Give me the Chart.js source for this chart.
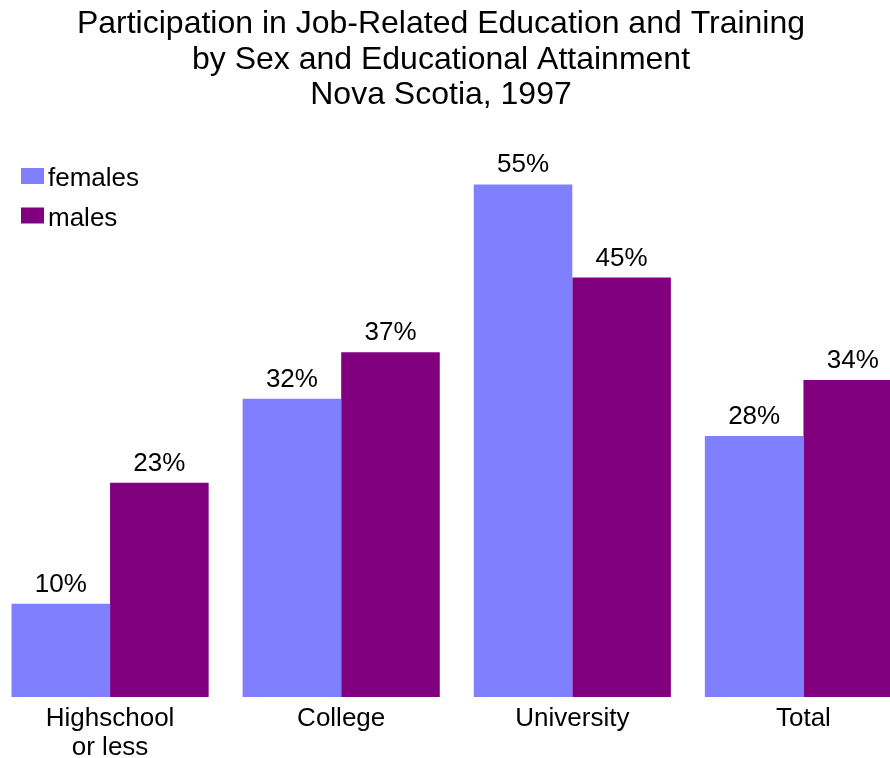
<!DOCTYPE html>
<html>
<head>
<meta charset="utf-8">
<title>Participation in Job-Related Education and Training</title>
<script src="https://cdn.jsdelivr.net/npm/chart.js@4/dist/chart.umd.min.js"></script>
<style>
  html, body { margin: 0; padding: 0; background: #ffffff; }
  body { width: 890px; height: 758px; overflow: hidden; position: relative; }
  #wrap { position: absolute; left: -37px; top: 0; width: 956px; height: 758px; }
</style>
</head>
<body>
<div id="wrap"><canvas id="chart" width="956" height="758"></canvas></div>
<script>
// Education level groups shown along the bottom
const categories = [['Highschool', 'or less'], 'College', 'University', 'Total'];
// Participation rate (%) for each group
const females = [10, 32, 55, 28];
const males = [23, 37, 45, 34];
const seriesNames = ['females', 'males'];
const titleLines = [
  'Participation in Job-Related Education and Training',
  'by Sex and Educational Attainment',
  'Nova Scotia, 1997'
];

const FONT = '"Liberation Sans", Arial, Helvetica, sans-serif';
const FEMALE_COLOR = '#8080ff';
const MALE_COLOR = '#800080';

// Percentage labels above every bar
const valueLabels = {
  id: 'valueLabels',
  afterDatasetsDraw(chart) {
    const ctx = chart.ctx;
    ctx.save();
    ctx.font = '26px ' + FONT;
    ctx.fillStyle = '#000000';
    ctx.textAlign = 'center';
    ctx.textBaseline = 'alphabetic';
    chart.data.datasets.forEach((ds, i) => {
      chart.getDatasetMeta(i).data.forEach((bar, j) => {
        ctx.fillText(ds.data[j] + '%', bar.x, bar.y - 12);
      });
    });
    ctx.restore();
  }
};

// Stacked legend in the upper-left corner of the plot
const cornerLegend = {
  id: 'cornerLegend',
  afterDraw(chart) {
    const ctx = chart.ctx;
    const left = chart.chartArea.left + 26.5;
    ctx.save();
    ctx.font = '26px ' + FONT;
    ctx.textBaseline = 'alphabetic';
    ctx.textAlign = 'left';
    chart.data.datasets.forEach((ds, i) => {
      const top = 168 + i * 39.5;
      ctx.fillStyle = ds.backgroundColor;
      ctx.fillRect(left, top, 23, 16);
      ctx.fillStyle = '#000000';
      ctx.fillText(ds.label, left + 27, top + 18);
    });
    ctx.restore();
  }
};

new Chart(document.getElementById('chart'), {
  type: 'bar',
  data: {
    labels: categories,
    datasets: [
      { label: seriesNames[0], data: females, backgroundColor: FEMALE_COLOR, borderWidth: 0 },
      { label: seriesNames[1], data: males, backgroundColor: MALE_COLOR, borderWidth: 0 }
    ]
  },
  options: {
    responsive: false,
    devicePixelRatio: 1,
    animation: false,
    layout: { padding: 0 },
    categoryPercentage: 0.853,
    barPercentage: 1.0,
    plugins: {
      legend: { display: false },
      tooltip: { enabled: false },
      title: {
        display: true,
        text: titleLines,
        color: '#000000',
        font: { family: FONT, size: 32, weight: 'normal', lineHeight: 1.1 },
        padding: { top: 7, bottom: 25.2 }
      }
    },
    scales: {
      x: {
        grid: { display: false, drawTicks: false },
        border: { display: false },
        ticks: {
          color: '#000000',
          padding: 7.5,
          maxRotation: 0,
          autoSkip: false,
          font: { family: FONT, size: 26, lineHeight: 1.1 }
        },
        afterFit(scale) { scale.height = 61; }
      },
      y: {
        min: 0,
        max: 60,
        grid: { display: false, drawTicks: false },
        border: { display: false },
        ticks: { display: false },
        afterFit(scale) { scale.width = 31.5; }
      }
    }
  },
  plugins: [valueLabels, cornerLegend]
});
</script>
</body>
</html>
